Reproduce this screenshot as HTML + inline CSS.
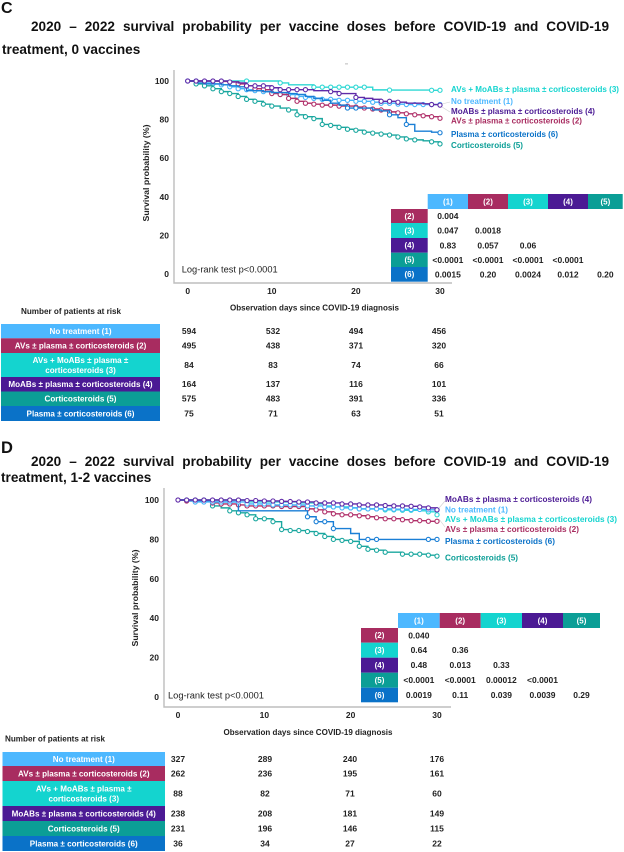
<!DOCTYPE html>
<html lang="en">
<head>
<meta charset="utf-8">
<title>Survival probability per vaccine doses</title>
<style>
html,body{margin:0;padding:0;background:#fff;}
body{width:624px;height:852px;position:relative;overflow:hidden;font-family:"Liberation Sans",sans-serif;color:#111;}
.t{position:absolute;font-weight:bold;font-size:13.6px;line-height:15px;white-space:nowrap;}
.j{white-space:normal;text-align:justify;text-align-last:justify;}
svg{position:absolute;left:0;top:0;}
svg text{font-family:"Liberation Sans",sans-serif;}
</style>
</head>
<body>
<div class="t" style="left:1px;top:0;font-size:16px;line-height:18px">C</div>
<div class="t j" style="left:31px;top:18.5px;width:578px">2020 – 2022 survival probability per vaccine doses before COVID-19 and COVID-19</div>
<div class="t" style="left:2px;top:41.5px">treatment, 0 vaccines</div>
<div class="t" style="left:1px;top:439px;font-size:16.5px;line-height:18px">D</div>
<div class="t j" style="left:31px;top:453.5px;width:578px">2020 – 2022 survival probability per vaccine doses before COVID-19 and COVID-19</div>
<div class="t" style="left:1px;top:469.5px">treatment, 1-2 vaccines</div>
<svg id="chart" width="624" height="852" viewBox="0 0 624 852"></svg>
<script>
// ---------- shared categories ----------
const xTicks = [0, 10, 20, 30];
const yTicks = [0, 20, 40, 60, 80, 100];
const groupColors = {1:'#4db8ff', 2:'#a82c60', 3:'#14d4cf', 4:'#4b1a94', 5:'#0b9e96', 6:'#0a72c8'};
const lineColors = {1:'#45b4fa', 2:'#b0306a', 3:'#2fd8d4', 4:'#5f2aa8', 5:'#1aa79f', 6:'#1a7fd6'};
const fullNames = {
  1:'No treatment (1)',
  2:'AVs ± plasma ± corticosteroids (2)',
  3:'AVs + MoABs ± plasma ± corticosteroids (3)',
  4:'MoABs ± plasma ± corticosteroids (4)',
  5:'Corticosteroids (5)',
  6:'Plasma ± corticosteroids (6)'
};
const matrixCols = ['(1)', '(2)', '(3)', '(4)', '(5)'];
const matrixRows = ['(2)', '(3)', '(4)', '(5)', '(6)'];

// ---------- panel C: survival per day 0..30 ----------
const cSurv1 = [100,100,99,98.5,98,97,96,95.5,95,94.5,94,93,93,92,91.5,91,90.5,90.5,90,90,89.5,89.5,89,88.5,88.5,88,87.8,87.8,87.8,87.8,87.8];
const cSurv2 = [100,100,100,100,99.8,99.5,98.5,97.5,96,95.5,93.5,93,91,89.5,88.5,88,87.5,87.5,87,87,86.5,86,85.5,85,84,83.5,83,82.5,82,81.5,80.7];
const cSurv3 = [100,100,100,100,100,100,100,100,100,100,100,99,98,98,98,96.8,96.8,96.8,96.8,96.8,96.8,96.8,95.4,95.4,95.3,95.3,95.3,95.3,95.3,95.2,95.2];
const cSurv4 = [100,100,100,100,100,99.5,99,97.5,97.5,97.5,96.5,95.5,95.5,95.5,95.5,95,95,94.5,93.5,93.5,91.5,91,90.5,89.5,89.5,89,88.5,88.5,88.2,87.8,87.5];
const cSurv5 = [100,98.5,97.5,96,94.5,93.5,92,90.5,89.5,88,87,86,85,82.5,81.5,80.5,77.5,77,76,75,74.5,73.5,73,72.5,72,71,70,69.5,69,68.5,67.4];
const cSurv6 = [100,99,98.5,98.5,98,97.5,97,95,95,94.5,94,94,93.5,93,92,91,90,88.5,87.5,86,86,86,85,84.5,82.5,81,77.5,74,74,73.5,73.2];
const cCensor1 = [0,1,2,3,4,5,6,7,8,9,10,11,12,13,14,15,16,17,18,19,20,21,22,23,24,25,26,27,28,29,30];
const cCensor2 = [6,7,8,9,10,11,12,13,14,15,16,17,18,19,20,21,22,23,24,25,26,27,28,29,30];
const cCensor3 = [7,11,15,16,17,18,19,20,21,24,29,30];
const cCensor4 = [0,1,2,3,4,5,7,8,9,10,11,12,13,14,17,18,20,23,24,25,29,30];
const cCensor5 = [1,2,3,4,5,6,7,8,9,10,12,13,14,15,16,17,18,19,20,21,22,23,24,25,26,27,29,30];
const cCensor6 = [19,20,24,26,30];
const cRiskNames = ['No treatment (1)','AVs ± plasma ± corticosteroids (2)','AVs + MoABs ± plasma ±|corticosteroids (3)','MoABs ± plasma ± corticosteroids (4)','Corticosteroids (5)','Plasma ± corticosteroids (6)'];
const cRiskGroups = [1,2,3,4,5,6];
const cRisk = [[594,532,494,456],[495,438,371,320],[84,83,74,66],[164,137,116,101],[575,483,391,336],[75,71,63,51]];
const cPvalues = [
  ['0.004'],
  ['0.047','0.0018'],
  ['0.83','0.057','0.06'],
  ['<0.0001','<0.0001','<0.0001','<0.0001'],
  ['0.0015','0.20','0.0024','0.012','0.20']
];

// ---------- panel D: survival per day 0..30 ----------
const dSurv1 = [100,99.5,99,99,99,99,99,99,98,98,98,97.5,97.5,97.5,97.5,97,97,96.5,96.5,96,96,95.5,95.5,95.5,95.5,95.3,95.3,95.2,95.2,95,95];
const dSurv2 = [100,99.5,99.5,99.3,98.5,98,98,97.5,97,97,97,97,96.7,96.7,96.7,95.5,95,94,93,92.5,92.5,92,91.5,91,90.5,90.5,90,89.5,89.5,89.2,89.2];
const dSurv3 = [100,100,100,100,100,100,100,100,99,99,99,99,99,99,98.5,98.5,98,97,96.5,96.5,96,95.5,95.5,95.5,95,95,94.8,94.8,94.5,94,92.5];
const dSurv4 = [100,100,100,100,100,100,100,100,99.7,99.7,99.5,99.5,99.3,99.2,99,99,98.5,98.5,98.5,98,98,97.5,97.5,97.5,97.2,97,97,96.8,96.5,96,95];
const dSurv5 = [100,99.5,99.5,99.2,97,96,94.5,93.5,92.5,90.5,90.5,89,85,84.5,84.5,84,83,81.5,80,79.5,79,76.5,75,74.5,73.5,73.5,72.5,72.5,72.5,72,71.5];
const dSurv6 = [100,100,99.5,99.5,99,99,99,94.5,94.5,94.5,94.5,94.5,94.5,94.5,94.5,91.5,89,89,85.5,85.5,83,80,80,80,80,80,80,80,80,80,80];
const dCensor1 = [2,3,4,5,6,7,8,9,10,11,12,13,14,15,16,17,18,19,20,21,22,23,24,25,26,27,28,29,30];
const dCensor2 = [1,3,4,5,6,7,8,9,10,11,12,13,14,15,16,17,18,19,20,21,22,23,24,25,26,27,28,29,30];
const dCensor3 = [1,2,3,8,14,18,19,20,21,22,23,24,25,26,27,29,30];
const dCensor4 = [0,1,2,3,4,5,6,7,8,9,10,11,12,13,14,15,16,17,18,19,20,21,22,23,24,25,26,27,28,29,30];
const dCensor5 = [4,6,7,8,9,10,11,12,13,14,15,16,17,18,19,20,21,22,23,24,26,27,28,29,30];
const dCensor6 = [15,16,17,18,22,23,29,30];
const dRiskNames = ['No treatment (1)','AVs ± plasma ± corticosteroids (2)','AVs + MoABs ± plasma ±|corticosteroids (3)','MoABs ± plasma ± corticosteroids (4)','Corticosteroids (5)','Plasma ± corticosteroids (6)'];
const dRiskGroups = [1,2,3,4,5,6];
const dRisk = [[327,289,240,176],[262,236,195,161],[88,82,71,60],[238,208,181,149],[231,196,146,115],[36,34,27,22]];
const dPvalues = [
  ['0.040'],
  ['0.64','0.36'],
  ['0.48','0.013','0.33'],
  ['<0.0001','<0.0001','0.00012','<0.0001'],
  ['0.0019','0.11','0.039','0.0039','0.29']
];

const svg = document.getElementById('chart');
const NS = 'http://www.w3.org/2000/svg';

function make(tag, props, parent) {
  const el = document.createElementNS(NS, tag);
  for (const k in props) el.setAttribute(k, props[k]);
  (parent || svg).appendChild(el);
  return el;
}
function label(str, x, y, size, weight, fill, anchor, name, fit) {
  const el = make('text', {x: x, y: y + size * 0.35, 'font-size': size, 'font-weight': weight, fill: fill, 'text-anchor': anchor || 'middle'});
  el.textContent = str;
  if (fit) {
    el.setAttribute('textLength', fit);
    el.setAttribute('lengthAdjust', 'spacingAndGlyphs');
  }
  
  
  return el;
}
function box(x, y, w, h, fill, name) {
  const el = make('rect', {x: x, y: y, width: w, height: h, fill: fill});
  
  
  return el;
}

function drawPanel(p) {
  const sx = d => p.x0 + (p.x30 - p.x0) * d / 30;
  const sy = v => p.y0 + (p.y100 - p.y0) * v / 100;

  const axes = make('path', {d: 'M' + p.left + ' ' + p.top + 'V' + p.bottom + 'H' + p.right, fill: 'none', stroke: '#bdbdbd', 'stroke-width': 1.4});
  
  

  xTicks.forEach(t => label(String(t), sx(t), p.bottom + 8, 8.5, 'bold', '#222', 'middle', p.id + '-x-tick-' + t));
  yTicks.forEach(t => label(String(t), p.left - 5, sy(t), 8.5, 'bold', '#222', 'end', p.id + '-y-tick-' + t));
  label('Observation days since COVID-19 diagnosis', p.xTitleX, p.xTitleY, 8, 'bold', '#222', 'middle', p.id + '-x-axis-title', 169);
  const yt = label('Survival probability (%)', 0, 0, 8, 'bold', '#222', 'middle', p.id + '-y-axis-title', 97);
  yt.setAttribute('transform', 'translate(' + p.yTitleX + ' ' + p.yTitleY + ') rotate(-90)');
  label('Log-rank test p<0.0001', p.logX, p.logY, 9.6, 'normal', '#222', 'start', p.id + '-log-rank-label', 96);

  p.order.forEach(g => {
    const vals = p.surv[g];
    let d = 'M' + sx(0) + ' ' + sy(vals[0]);
    vals.forEach((v, i) => {
      if (i > 0) d += 'H' + sx(i) + 'V' + sy(v);
    });
    const line = make('path', {d: d, fill: 'none', stroke: lineColors[g], 'stroke-width': 1.4});
    
    
    p.censor[g].forEach(c => {
      const m = make('circle', {cx: sx(c), cy: sy(vals[c]), r: 2.1, fill: '#fff', stroke: lineColors[g], 'stroke-width': 1.1});
      
      
    });
  });

  p.leaders.forEach(l => {
    const ln = make('path', {d: l, fill: 'none', stroke: '#cfcfcf', 'stroke-width': 0.6});
    
    
  });
  p.legend.forEach(e => {
    label(fullNames[e.g], p.legendX, e.y, 8, 'bold', groupColors[e.g], 'start', p.id + '-legend-entry-' + e.g, e.w);
  });

  // p-value matrix
  matrixCols.forEach((c, i) => {
    const x = p.mCols[i], w = p.mCols[i + 1] - x;
    box(x, p.mRows[0], w, p.mRows[1] - p.mRows[0], groupColors[i + 1], p.id + '-matrix-col-header-' + (i + 1));
    label(c, x + w / 2, (p.mRows[0] + p.mRows[1]) / 2, 8, 'bold', '#fff', 'middle', p.id + '-matrix-col-label-' + (i + 1));
  });
  matrixRows.forEach((r, i) => {
    const y = p.mRows[i + 1], h = p.mRows[i + 2] - y;
    box(p.mLeft, y, p.mCols[0] - p.mLeft, h, groupColors[i + 2], p.id + '-matrix-row-header-' + (i + 2));
    label(r, (p.mLeft + p.mCols[0]) / 2, y + h / 2, 8, 'bold', '#fff', 'middle', p.id + '-matrix-row-label-' + (i + 2));
    p.pvals[i].forEach((v, j) => {
      label(v, (p.mCols[j] + p.mCols[j + 1]) / 2, y + h / 2, 8.5, 'bold', '#222', 'middle', p.id + '-p-value-' + (i + 2) + '-' + (j + 1));
    });
  });

  // at-risk table
  label('Number of patients at risk', p.riskTitleX, p.riskTitleY, 8, 'bold', '#222', 'start', p.id + '-at-risk-title', 100);
  p.riskNames.forEach((n, i) => {
    const y = p.riskRows[i], h = p.riskRows[i + 1] - y, g = p.riskGroups[i];
    box(p.riskL, y, p.riskW, h, groupColors[g], p.id + '-at-risk-row-' + g);
    const parts = n.split('|');
    parts.forEach((s, k) => {
      label(s, p.riskL + p.riskW / 2, y + h / 2 + (k - (parts.length - 1) / 2) * 10, 8.1, 'bold', '#fff', 'middle', p.id + '-at-risk-label-' + g);
    });
    p.risk[i].forEach((v, j) => {
      label(String(v), p.riskCols[j], y + h / 2, 8.5, 'bold', '#222', 'middle', p.id + '-at-risk-value-' + g + '-' + xTicks[j]);
    });
  });
}

drawPanel({
  id: 'panel-c', x0: 187.7, x30: 440, y0: 274, y100: 81,
  left: 174, right: 452, top: 70, bottom: 283,
  xTitleX: 314.5, xTitleY: 307.7, yTitleX: 146, yTitleY: 173,
  logX: 181.7, logY: 269,
  order: [3, 1, 5, 2, 6, 4],
  surv: {1: cSurv1, 2: cSurv2, 3: cSurv3, 4: cSurv4, 5: cSurv5, 6: cSurv6},
  censor: {1: cCensor1, 2: cCensor2, 3: cCensor3, 4: cCensor4, 5: cCensor5, 6: cCensor6},
  legendX: 451,
  legend: [{g: 3, y: 89, w: 168}, {g: 1, y: 101, w: 62}, {g: 4, y: 111, w: 144}, {g: 2, y: 120.5, w: 131}, {g: 6, y: 134, w: 107}, {g: 5, y: 145, w: 72}],
  leaders: ['M442 104L450 102', 'M442 107L450 112'],
  mCols: [427.7, 468, 508, 548, 588, 622.7],
  mRows: [194, 209, 223, 238, 252.7, 267, 281.7],
  mLeft: 391, pvals: cPvalues,
  riskTitleX: 21, riskTitleY: 311,
  riskNames: cRiskNames, riskGroups: cRiskGroups, risk: cRisk,
  riskL: 1, riskW: 159,
  riskRows: [324, 338.3, 353, 377, 391.5, 406, 421],
  riskCols: [189, 273, 356, 439]
});

drawPanel({
  id: 'panel-d', x0: 178, x30: 437, y0: 697, y100: 500,
  left: 164, right: 451, top: 488, bottom: 707,
  xTitleX: 308, xTitleY: 732, yTitleX: 135, yTitleY: 598,
  logX: 168, logY: 695,
  order: [5, 2, 6, 3, 1, 4],
  surv: {1: dSurv1, 2: dSurv2, 3: dSurv3, 4: dSurv4, 5: dSurv5, 6: dSurv6},
  censor: {1: dCensor1, 2: dCensor2, 3: dCensor3, 4: dCensor4, 5: dCensor5, 6: dCensor6},
  legendX: 445,
  legend: [{g: 4, y: 499, w: 147}, {g: 1, y: 509.5, w: 63}, {g: 3, y: 519, w: 172}, {g: 2, y: 529, w: 134}, {g: 6, y: 541, w: 110}, {g: 5, y: 557.5, w: 73}],
  leaders: ['M439 508L445 501', 'M439 519L445 527'],
  mCols: [398, 439.7, 480.7, 522, 563, 600],
  mRows: [613, 628, 642.7, 657.7, 672.7, 687.7, 702.3],
  mLeft: 361, pvals: dPvalues,
  riskTitleX: 5, riskTitleY: 738.5,
  riskNames: dRiskNames, riskGroups: dRiskGroups, risk: dRisk,
  riskL: 2.5, riskW: 162.5,
  riskRows: [752, 766, 781, 806, 821, 836, 851],
  riskCols: [178, 265, 350, 437]
});

const topDash = make('rect', {x: 345, y: 63.5, width: 3, height: 0.8, fill: '#aaa'});


</script>
</body>
</html>
